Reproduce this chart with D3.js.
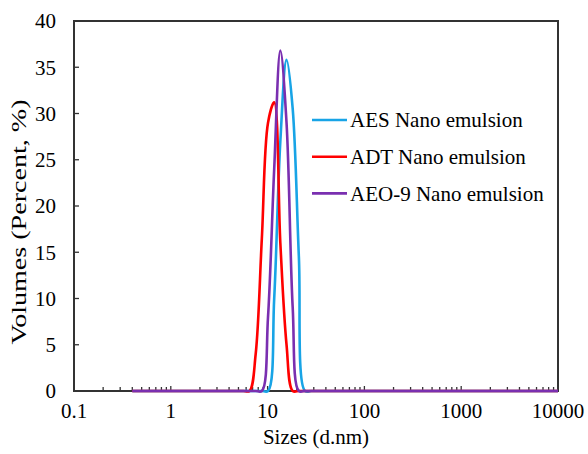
<html>
<head>
<script src="https://d3js.org/d3.v7.min.js"></script>
<style>
  body { margin: 0; background: #fff; }
  svg text { font-family: "Liberation Serif", Tinos, "Times New Roman", Times, "DejaVu Serif", serif; fill: #000; }
</style>
</head>
<body>
<svg id="chart" width="588" height="454"></svg>
<script>
// size bins (d.nm) and volume % per sample
var sizes = [0.4, 0.4632, 0.5365, 0.6213, 0.7195, 0.8332, 0.9649, 1.117, 1.294, 1.499,
  1.736, 2.01, 2.328, 2.696, 3.122, 3.615, 4.187, 4.849, 5.615, 6.503,
  7.531, 8.721, 10.1, 11.7, 13.54, 15.69, 18.17, 21.04, 24.36, 28.21,
  32.67, 37.84, 43.82, 50.75, 58.77, 68.06, 78.82, 91.28, 105.7, 122.4,
  141.8, 164.2, 190.1, 220.2, 255, 295.3, 342, 396.1, 458.7, 531.2,
  615.1, 712.4, 825, 955.4, 1106, 1281, 1484, 1718, 1990, 2305,
  2669, 3091, 3580, 4145, 4801, 5560, 6439, 7456, 8635, 10000];
var aes = [0, 0, 0, 0, 0, 0, 0, 0, 0, 0,
  0, 0, 0, 0, 0, 0, 0, 0, 0, 0,
  0, 0, 0, 10, 27, 35.8, 30.5, 14.5, 0, 0,
  0, 0, 0, 0, 0, 0, 0, 0, 0, 0,
  0, 0, 0, 0, 0, 0, 0, 0, 0, 0,
  0, 0, 0, 0, 0, 0, 0, 0, 0, 0,
  0, 0, 0, 0, 0, 0, 0, 0, 0, 0];
var adt = [0, 0, 0, 0, 0, 0, 0, 0, 0, 0,
  0, 0, 0, 0, 0, 0, 0, 0, 0, 0,
  4, 16.5, 29, 31.2, 16, 5, 0, 0, 0, 0,
  0, 0, 0, 0, 0, 0, 0, 0, 0, 0,
  0, 0, 0, 0, 0, 0, 0, 0, 0, 0,
  0, 0, 0, 0, 0, 0, 0, 0, 0, 0,
  0, 0, 0, 0, 0, 0, 0, 0, 0, 0];
var aeo = [0, 0, 0, 0, 0, 0, 0, 0, 0, 0,
  0, 0, 0, 0, 0, 0, 0, 0, 0, 0,
  0, 0, 8, 24, 36.8, 29, 9, 0, 0, 0,
  0, 0, 0, 0, 0, 0, 0, 0, 0, 0,
  0, 0, 0, 0, 0, 0, 0, 0, 0, 0,
  0, 0, 0, 0, 0, 0, 0, 0, 0, 0,
  0, 0, 0, 0, 0, 0, 0, 0, 0, 0];
var seriesNames = ["AES Nano emulsion", "ADT Nano emulsion", "AEO-9 Nano emulsion"];
var seriesColors = ["#18a4e6", "#ff0000", "#7a2fb0"];
var xTicks = [0.1, 1, 10, 100, 1000, 10000];
var yTicks = [0, 5, 10, 15, 20, 25, 30, 35, 40];

var svg = d3.select("#chart");
var pLeft = 74, pRight = 558, pTop = 21, pBottom = 391;
var serif = '"Liberation Serif", Tinos, "Times New Roman", Times, "DejaVu Serif", serif';

var x = d3.scaleLog().domain([0.1, 10000]).range([pLeft, pRight]);
var y = d3.scaleLinear().domain([0, 40]).range([pBottom, pTop]);

// minor ticks 2..9 per decade
var minor = [];
xTicks.slice(0, -1).forEach(function(d) {
  for (var k = 2; k <= 9; k++) minor.push(d * k);
});

var axisColor = "#333";

// x axis (ticks inside)
var gx = svg.append("g").attr("transform", "translate(0," + pBottom + ")");
gx.selectAll(".minor").data(minor).enter().append("line")
  .attr("x1", d => x(d)).attr("x2", d => x(d))
  .attr("y1", 0).attr("y2", -4)
  .attr("stroke", axisColor).attr("stroke-width", 1.3);
gx.selectAll(".major").data(xTicks).enter().append("line")
  .attr("x1", d => x(d)).attr("x2", d => x(d))
  .attr("y1", 0).attr("y2", -5)
  .attr("stroke", axisColor).attr("stroke-width", 1.3);
gx.selectAll(".lbl").data(xTicks).enter().append("text")
  .attr("x", d => x(d)).attr("y", 27)
  .attr("text-anchor", "middle")
  .attr("font-family", serif)
  .style("font-size", "21px")
  .text(d => d);

// y axis (ticks inside)
var gy = svg.append("g").attr("transform", "translate(" + pLeft + ",0)");
gy.selectAll("line").data(yTicks).enter().append("line")
  .attr("x1", 0).attr("x2", 5)
  .attr("y1", d => y(d)).attr("y2", d => y(d))
  .attr("stroke", axisColor).attr("stroke-width", 1.3);
gy.selectAll("text").data(yTicks).enter().append("text")
  .attr("x", -18).attr("y", d => y(d)).attr("dy", "0.35em")
  .attr("text-anchor", "end")
  .attr("font-family", serif)
  .style("font-size", "21px")
  .text(d => d);

// plot frame
svg.append("rect")
  .attr("x", pLeft).attr("y", pTop)
  .attr("width", pRight - pLeft).attr("height", pBottom - pTop)
  .attr("fill", "none").attr("stroke", axisColor).attr("stroke-width", 2);

// series lines
var line = d3.line()
  .x(d => x(d[0]))
  .y(d => y(d[1]))
  .curve(d3.curveCatmullRom.alpha(0.5));

[aes, adt, aeo].forEach(function(vals, i) {
  svg.append("path")
    .datum(sizes.map((s, j) => [s, vals[j]]))
    .attr("d", line)
    .attr("fill", "none")
    .attr("stroke", seriesColors[i])
    .attr("stroke-width", 2.6);
});

// legend
var lg = svg.append("g");
seriesNames.forEach(function(name, i) {
  var yy = 120 + i * 36.7;
  lg.append("line")
    .attr("x1", 312).attr("x2", 347).attr("y1", yy).attr("y2", yy)
    .attr("stroke", seriesColors[i]).attr("stroke-width", 2.6);
  lg.append("text")
    .attr("x", 350).attr("y", yy).attr("dy", "0.35em")
    .attr("font-family", serif)
    .style("font-size", "21px")
    .text(name);
});

// axis titles
svg.append("text")
  .attr("x", (pLeft + pRight) / 2).attr("y", 444)
  .attr("text-anchor", "middle")
  .attr("font-family", serif)
  .style("font-size", "21px")
  .text("Sizes (d.nm)");

svg.append("text")
  .attr("transform", "translate(26,222) rotate(-90)")
  .attr("text-anchor", "middle")
  .attr("textLength", 245).attr("lengthAdjust", "spacingAndGlyphs")
  .attr("font-family", serif)
  .style("font-size", "21px")
  .text("Volumes (Percent, %)");
</script>
</body>
</html>
